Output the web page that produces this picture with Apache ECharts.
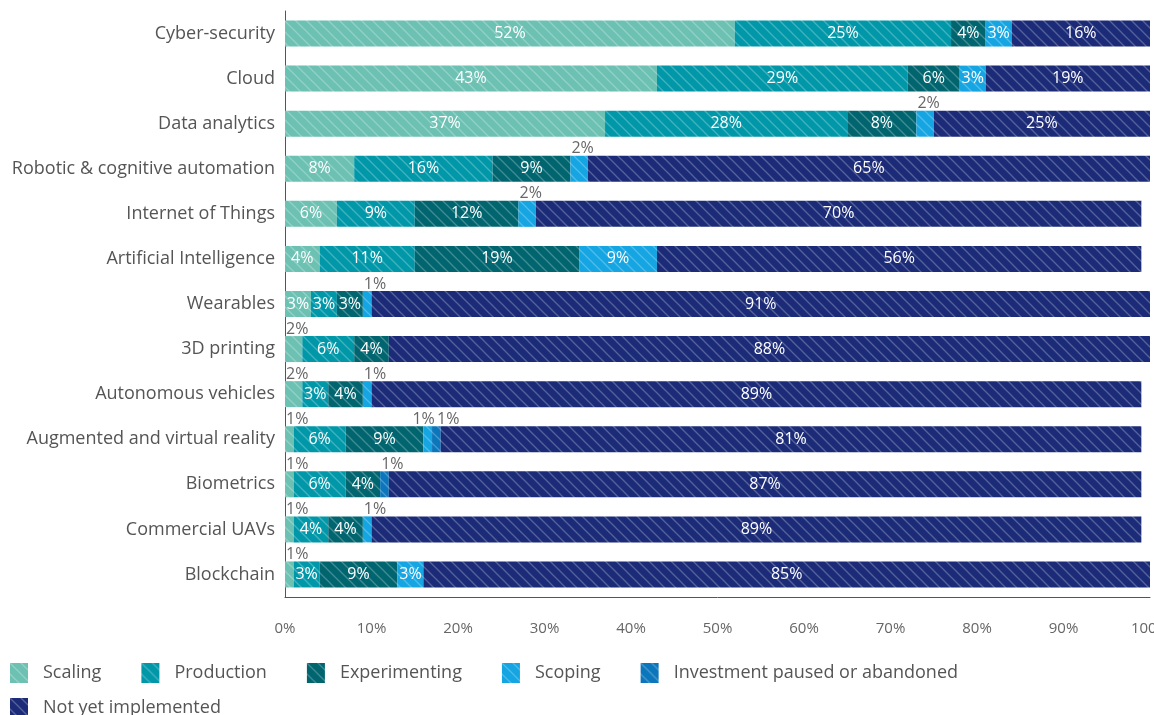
<!DOCTYPE html>
<html>
<head>
<meta charset="utf-8">
<title>Technology adoption stages</title>
<script src="https://cdn.jsdelivr.net/npm/echarts@6/dist/echarts.min.js"></script>
<style>
  html, body { margin: 0; padding: 0; background: #ffffff; }
  #chart { width: 1154px; height: 715px; }
</style>
</head>
<body>
<div id="chart"></div>
<script>
// Technologies, top to bottom
const categories = [
  'Cyber-security', 'Cloud', 'Data analytics', 'Robotic & cognitive automation',
  'Internet of Things', 'Artificial Intelligence', 'Wearables', '3D printing',
  'Autonomous vehicles', 'Augmented and virtual reality', 'Biometrics',
  'Commercial UAVs', 'Blockchain'
];

// Share of respondents (%) per adoption stage
const scaling       = [52, 43, 37,  8,  6,  4,  3,  2,  2,  1,  1,  1,  1];
const production    = [25, 29, 28, 16,  9, 11,  3,  6,  3,  6,  6,  4,  3];
const experimenting = [ 4,  6,  8,  9, 12, 19,  3,  4,  4,  9,  4,  4,  9];
const scoping       = [ 3,  3,  2,  2,  2,  9,  1,  0,  1,  1,  0,  1,  3];
const paused        = [ 0,  0,  0,  0,  0,  0,  0,  0,  0,  1,  1,  0,  0];
const notYet        = [16, 19, 25, 65, 70, 56, 91, 88, 89, 81, 87, 89, 85];

const xTicks = [0, 10, 20, 30, 40, 50, 60, 70, 80, 90, 100];

const stages = [
  { name: 'Scaling',                         values: scaling,       color: '#6cc1b3' },
  { name: 'Production',                      values: production,    color: '#0097a9' },
  { name: 'Experimenting',                   values: experimenting, color: '#00656f' },
  { name: 'Scoping',                         values: scoping,       color: '#14a5e2' },
  { name: 'Investment paused or abandoned',  values: paused,        color: '#0b76bb' },
  { name: 'Not yet implemented',             values: notYet,        color: '#1c2b78' }
];

const FONT = "'Open Sans', 'Noto Sans', sans-serif";

// Diagonal white hatching over a solid fill
function hatch(color) {
  const s = 11;
  const c = document.createElement('canvas');
  c.width = s; c.height = s;
  const g = c.getContext('2d');
  g.fillStyle = color;
  g.fillRect(0, 0, s, s);
  g.strokeStyle = 'rgba(255,255,255,0.26)';
  g.lineWidth = 1.3;
  for (let k = -1; k <= 1; k++) {
    g.beginPath();
    g.moveTo(k * s - 1, -1);
    g.lineTo(k * s + s + 1, s + 1);
    g.stroke();
  }
  return { image: c, repeat: 'repeat' };
}

// Small shares sit above their segment; the rest are centred inside it
function buildData(values, stageName) {
  return values.map((v, i) => {
    if (v === 0) return { value: v, label: { show: false } };
    if (v <= 2) {
      let dx = 1;
      // two adjacent 1% labels on the AR/VR row are spread apart
      if (categories[i] === 'Augmented and virtual reality') {
        if (stageName === 'Scoping') dx = -11;
        if (stageName === 'Investment paused or abandoned') dx = 5;
      }
      return {
        value: v,
        label: {
          show: true, position: [dx, -15], color: '#666666',
          fontSize: 16, fontFamily: FONT, fontWeight: 400
        }
      };
    }
    return { value: v };
  });
}

const series = stages.map(st => ({
  name: st.name,
  type: 'bar',
  stack: 'total',
  barWidth: 26,
  clip: true,
  itemStyle: { color: hatch(st.color) },
  label: {
    show: true, position: 'inside', formatter: '{c}%',
    color: '#ffffff', fontSize: 16, fontFamily: FONT, fontWeight: 400
  },
  emphasis: { disabled: true },
  data: buildData(st.values, st.name)
}));

// Legend rows: five stages on the first line, the last one below
const legendBase = {
  orient: 'horizontal', left: 5,
  itemWidth: 18, itemHeight: 20, itemGap: 40,
  icon: 'rect',
  textStyle: { color: '#555555', fontSize: 18, fontFamily: FONT, fontWeight: 400, padding: [0, 0, 0, 10] }
};

const chart = echarts.init(document.getElementById('chart'), null, { renderer: 'canvas' });
chart.setOption({
  animation: false,
  backgroundColor: '#ffffff',
  grid: { left: 285, right: 4, top: 11, height: 586, containLabel: false, outerBoundsMode: 'none' },
  legend: [
    Object.assign({}, legendBase, { top: 658, data: stages.slice(0, 5).map(s => s.name) }),
    Object.assign({}, legendBase, { top: 693, data: stages.slice(5).map(s => s.name) })
  ],
  xAxis: {
    type: 'value', min: xTicks[0], max: xTicks[xTicks.length - 1], interval: 10,
    axisLine: { show: true, lineStyle: { color: '#555555', width: 1 } },
    axisTick: { show: false },
    splitLine: { show: false },
    axisLabel: {
      margin: 24, color: '#666666', fontSize: 15, fontFamily: FONT, fontWeight: 400,
      formatter: v => v + '%'
    }
  },
  yAxis: {
    type: 'category', inverse: true, data: categories,
    axisLine: { show: true, lineStyle: { color: '#555555', width: 1 } },
    axisTick: { show: false },
    axisLabel: { margin: 10, color: '#555555', fontSize: 18, fontFamily: FONT, fontWeight: 400 }
  },
  series: series
});
</script>
</body>
</html>
